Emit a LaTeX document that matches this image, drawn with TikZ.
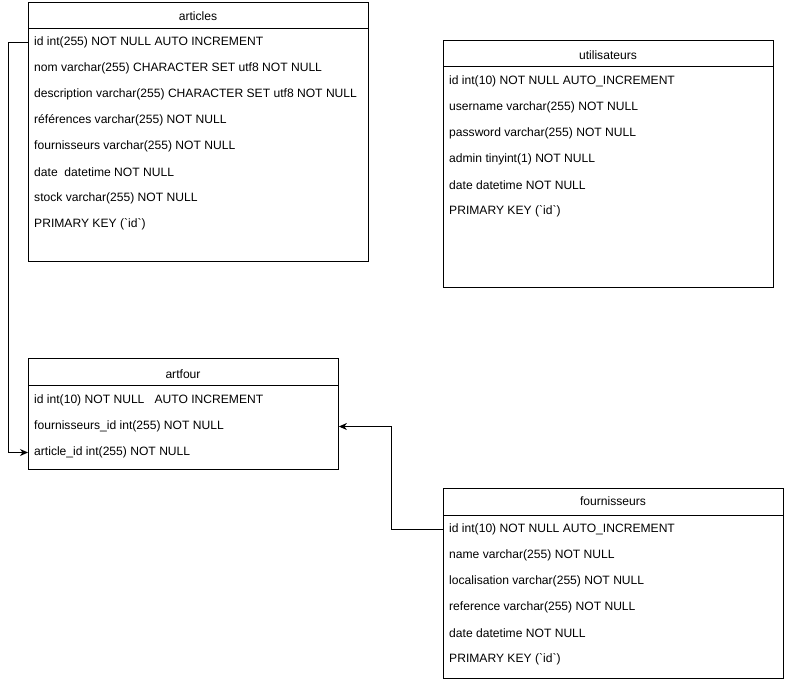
\documentclass[tikz,border=0pt]{standalone}
\usepackage{fontspec}
\setmainfont{Liberation Sans}[Ligatures=TeXOff]
\usetikzlibrary{arrows.meta}
\begin{document}
\begin{tikzpicture}[x=1pt,y=-1pt,
  tablebox/.style={draw,line width=0.9pt,anchor=north west,inner sep=0pt,minimum width=#1},
  title/.style={font=\fontsize{12.1}{14}\selectfont,inner sep=0pt},
  field/.style={font=\fontsize{12.1}{14}\selectfont,anchor=west,inner sep=0pt},
  link/.style={line width=0.9pt,-{Stealth[length=8pt,width=7pt,inset=2.5pt]}}]
\useasboundingbox (0,0) rectangle (785,680);

% articles
\node[tablebox=340pt,minimum height=259pt] (articles) at (28,2) {};
\draw[line width=0.9pt] (28,28) -- (368,28);
\node[title] (articlesT) at (198,16.5) {articles};
\node[field] (a1) at (34,42.5) {id int(255) NOT NULL AUTO INCREMENT};
\node[field] (a2) at (34,68.5) {nom varchar(255) CHARACTER SET utf8 NOT NULL};
\node[field] (a3) at (34,94.5) {description varchar(255) CHARACTER SET utf8 NOT NULL};
\node[field] (a4) at (34,120.5) {références varchar(255) NOT NULL};
\node[field] (a5) at (34,146.5) {fournisseurs varchar(255) NOT NULL};
\node[field] (a6) at (34,172.5) {date\ \ datetime NOT NULL};
\node[field] (a7) at (34,198.5) {stock varchar(255) NOT NULL};
\node[field] (a8) at (34,224.5) {PRIMARY KEY (`id`)};

% utilisateurs
\node[tablebox=330pt,minimum height=247pt] (users) at (443,40) {};
\draw[line width=0.9pt] (443,66) -- (773,66);
\node[title] (usersT) at (608,55.5) {utilisateurs};
\node[field] (u1) at (449,81.5) {id int(10) NOT NULL AUTO\_INCREMENT};
\node[field] (u2) at (449,107.5) {username varchar(255) NOT NULL};
\node[field] (u3) at (449,133.5) {password varchar(255) NOT NULL};
\node[field] (u4) at (449,159.5) {admin tinyint(1) NOT NULL};
\node[field] (u5) at (449,185.5) {date datetime NOT NULL};
\node[field] (u6) at (449,211.5) {PRIMARY KEY (`id`)};

% artfour
\node[tablebox=310pt,minimum height=111pt] (artfour) at (28,358) {};
\draw[line width=0.9pt] (28,385) -- (338,385);
\node[title] (artfourT) at (183,374) {artfour};
\node[field] (f1) at (34,400.5) {id int(10) NOT NULL\ \ \ AUTO INCREMENT};
\node[field] (f2) at (34,426.5) {fournisseurs\_id int(255) NOT NULL};
\node[field] (f3) at (34,452.5) {article\_id int(255) NOT NULL};

% fournisseurs
\node[tablebox=340pt,minimum height=190pt] (fourn) at (443,488) {};
\draw[line width=0.9pt] (443,515) -- (783,515);
\node[title] (fournT) at (613,501.5) {fournisseurs};
\node[field] (s1) at (449,529.5) {id int(10) NOT NULL AUTO\_INCREMENT};
\node[field] (s2) at (449,555.5) {name varchar(255) NOT NULL};
\node[field] (s3) at (449,581.5) {localisation varchar(255) NOT NULL};
\node[field] (s4) at (449,607.5) {reference varchar(255) NOT NULL};
\node[field] (s5) at (449,633.5) {date datetime NOT NULL};
\node[field] (s6) at (449,659.5) {PRIMARY KEY (`id`)};

% relations: row of one table to the matching row of artfour
\draw[link] (articles.west |- a1.west) -- ++(-20,0) |- (artfour.west |- f3.west);
\draw[link] (fourn.west |- s1.west) -- ++(-52,0) |- (artfour.east |- f2.west);
\end{tikzpicture}
\end{document}
